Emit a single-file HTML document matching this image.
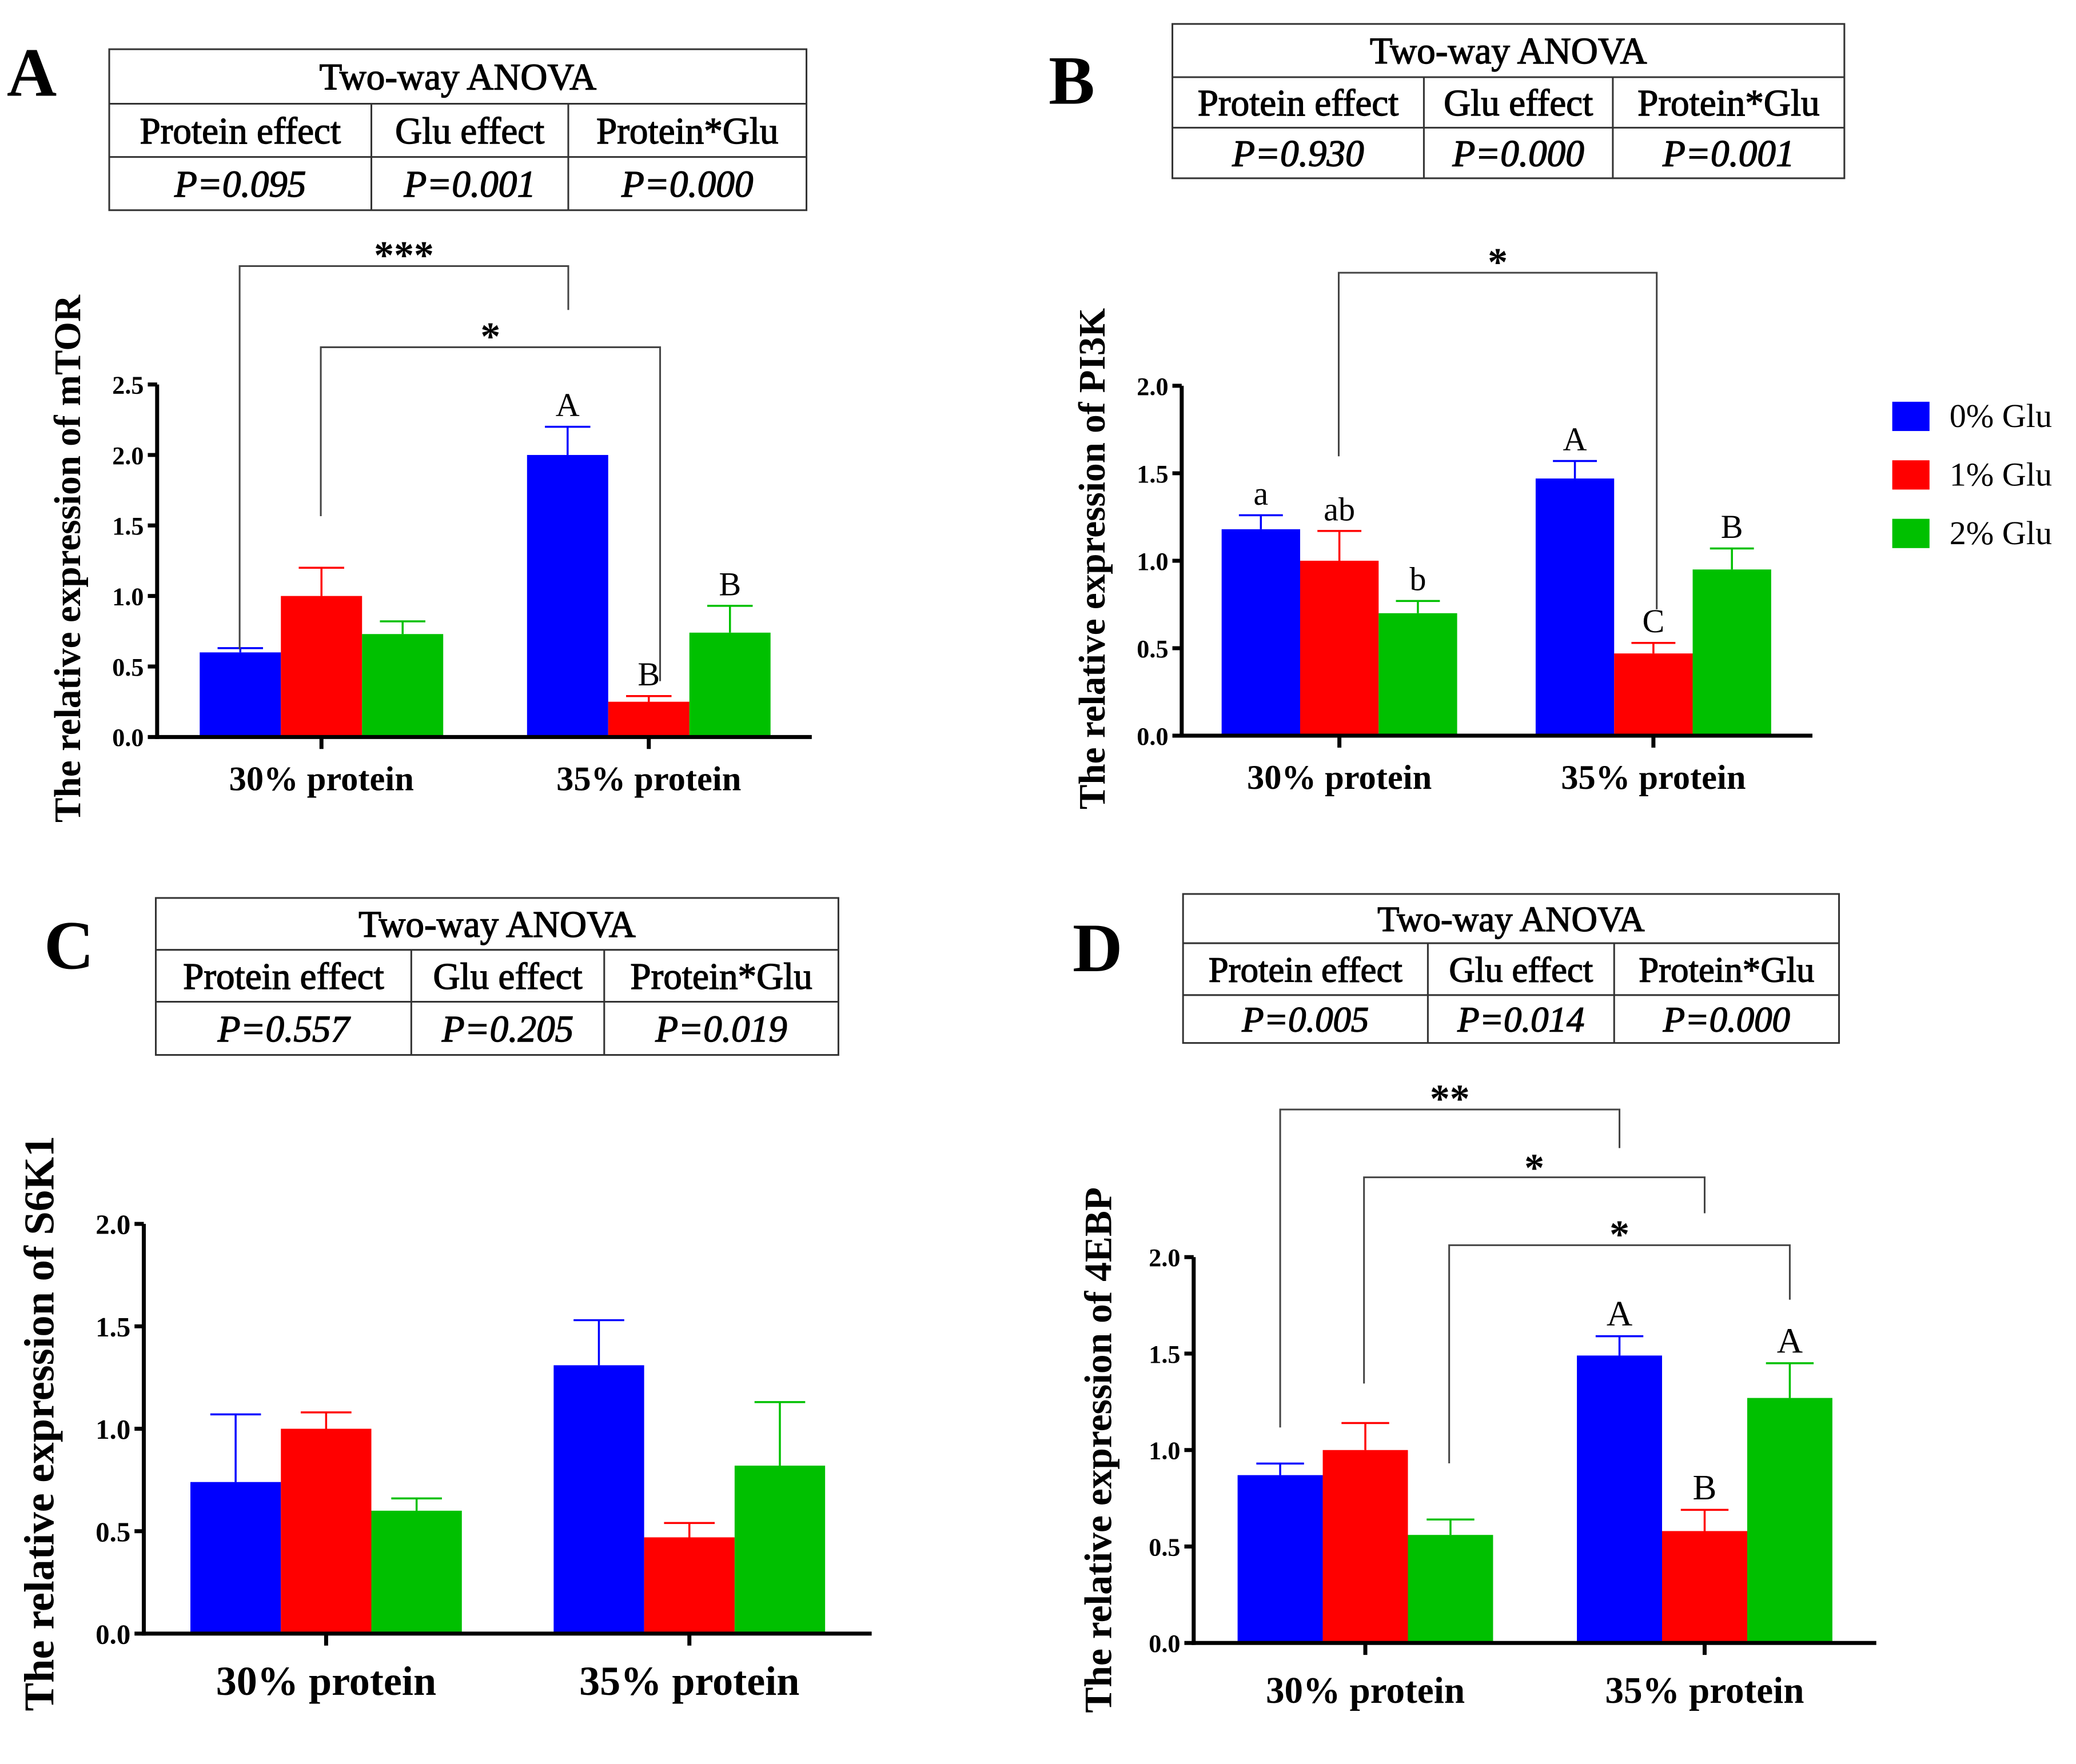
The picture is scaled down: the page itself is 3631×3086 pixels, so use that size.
<!DOCTYPE html>
<html><head><meta charset="utf-8">
<style>
html,body{margin:0;padding:0;background:#fff;}
svg{display:block;}
text{font-family:"Liberation Serif",serif;}
</style></head>
<body>
<svg id="fig" width="3631" height="3086" viewBox="0 0 1560 1326" xmlns="http://www.w3.org/2000/svg">
<rect width="1560" height="1326" fill="#fff"/>
</svg>
<script>
const categories = ["30% protein", "35% protein"];
const seriesNames = ["0% Glu", "1% Glu", "2% Glu"];
const colors = ["#0000ff", "#ff0000", "#00c000"];
const mtorValues = [[0.60, 1.00, 0.73], [2.00, 0.25, 0.74]];
const mtorErrors = [[0.63, 1.20, 0.82], [2.20, 0.29, 0.93]];
const mtorLetters = [["", "", ""], ["A", "B", "B"]];
const pi3kValues = [[1.18, 1.00, 0.70], [1.47, 0.47, 0.95]];
const pi3kErrors = [[1.26, 1.17, 0.77], [1.57, 0.53, 1.07]];
const pi3kLetters = [["a", "ab", "b"], ["A", "C", "B"]];
const s6k1Values = [[0.74, 1.00, 0.60], [1.31, 0.47, 0.82]];
const s6k1Errors = [[1.07, 1.08, 0.66], [1.53, 0.54, 1.13]];
const s6k1Letters = [["", "", ""], ["", "", ""]];
const ebpValues = [[0.87, 1.00, 0.56], [1.49, 0.58, 1.27]];
const ebpErrors = [[0.93, 1.14, 0.64], [1.59, 0.69, 1.45]];
const ebpLetters = [["", "", ""], ["A", "B", "A"]];
const yTicksA = ["0.0", "0.5", "1.0", "1.5", "2.0", "2.5"];
const yTicksB = ["0.0", "0.5", "1.0", "1.5", "2.0"];
const anovaA = ["P=0.095", "P=0.001", "P=0.000"];
const anovaB = ["P=0.930", "P=0.000", "P=0.001"];
const anovaC = ["P=0.557", "P=0.205", "P=0.019"];
const anovaD = ["P=0.005", "P=0.014", "P=0.000"];

const NS = "http://www.w3.org/2000/svg";
const svg = document.getElementById("fig");
function mk(tag, attrs, parent, txt) {
  const e = document.createElementNS(NS, tag);
  for (const k in attrs) e.setAttribute(k, attrs[k]);
  if (txt !== undefined) e.textContent = txt;
  (parent || svg).appendChild(e);
  return e;
}

const panels = [
  {id:"a", letter:"A", lx:5, ly:72, lsize:52, ylabel:"The relative expression of mTOR",
   vals:mtorValues, errs:mtorErrors, lets:mtorLetters, ticks:yTicksA, anova:anovaA,
   ax:118, y0:554, yTop:289, ymax:2.5, xEnd:610, starts:[150, 396], bw:61,
   yLabX:60, yLabY:420, yLabSize:28, tickSize:19, catSize:26, catY:594, letSize:25,
   table:{x1:82, x2:606, y1:37, r1:78, r2:118, y2:158, d1:279, d2:427, size:28},
   brackets:[{x1:180, y1:488, x2:427, y2:233, top:200, star:"***", sy:188},
             {x1:241, y1:388, x2:496, y2:512, top:261, star:"*", sy:249}]},
  {id:"b", letter:"B", lx:788, ly:78, lsize:52, ylabel:"The relative expression of PI3K",
   vals:pi3kValues, errs:pi3kErrors, lets:pi3kLetters, ticks:yTicksB, anova:anovaB,
   ax:888, y0:553, yTop:290, ymax:2.0, xEnd:1362, starts:[918, 1154], bw:59,
   yLabX:830, yLabY:420, yLabSize:28, tickSize:19, catSize:26, catY:593, letSize:25,
   table:{x1:881, x2:1386, y1:18, r1:58, r2:96, y2:134, d1:1070, d2:1212, size:28},
   brackets:[{x1:1006, y1:343, x2:1245, y2:458, top:205, star:"*", sy:193}]},
  {id:"c", letter:"C", lx:33, ly:728, lsize:52, ylabel:"The relative expression of S6K1",
   vals:s6k1Values, errs:s6k1Errors, lets:s6k1Letters, ticks:yTicksB, anova:anovaC,
   ax:108, y0:1228, yTop:920, ymax:2.0, xEnd:655, starts:[143, 416], bw:68,
   yLabX:40, yLabY:1070, yLabSize:32, tickSize:21, catSize:31, catY:1274, letSize:25,
   table:{x1:117, x2:630, y1:675, r1:714, r2:753, y2:793, d1:309, d2:454, size:28},
   brackets:[]},
  {id:"d", letter:"D", lx:806, ly:730, lsize:52, ylabel:"The relative expression of 4EBP",
   vals:ebpValues, errs:ebpErrors, lets:ebpLetters, ticks:yTicksB, anova:anovaD,
   ax:897, y0:1235, yTop:945, ymax:2.0, xEnd:1410, starts:[930, 1185], bw:64,
   yLabX:835, yLabY:1090, yLabSize:29, tickSize:19, catSize:28, catY:1280, letSize:27,
   table:{x1:889, x2:1382, y1:672, r1:709, r2:748, y2:784, d1:1073, d2:1213, size:27},
   brackets:[{x1:962, y1:1073, x2:1217, y2:863, top:834, star:"**", sy:822},
             {x1:1025, y1:1040, x2:1281, y2:912, top:885, star:"*", sy:874},
             {x1:1089, y1:1100, x2:1345, y2:977, top:936, star:"*", sy:924}]}
];

panels.forEach(p => {
  const g = mk("g", {});
  
  
  const yScale = v => p.y0 - (v / p.ymax) * (p.y0 - p.yTop);

  const pl = mk("text", {x:p.lx, y:p.ly, "font-size":p.lsize, "font-weight":"bold"}, g, p.letter);
  
  

  const t = p.table;
  const tg = mk("g", {stroke:"#333", "stroke-width":1.3, fill:"none"}, g);
  
  
  mk("rect", {x:t.x1, y:t.y1, width:t.x2 - t.x1, height:t.y2 - t.y1}, tg);
  mk("line", {x1:t.x1, y1:t.r1, x2:t.x2, y2:t.r1}, tg);
  mk("line", {x1:t.x1, y1:t.r2, x2:t.x2, y2:t.r2}, tg);
  mk("line", {x1:t.d1, y1:t.r1, x2:t.d1, y2:t.y2}, tg);
  mk("line", {x1:t.d2, y1:t.r1, x2:t.d2, y2:t.y2}, tg);
  const cx = [(t.x1 + t.d1) / 2, (t.d1 + t.d2) / 2, (t.d2 + t.x2) / 2];
  const tt = mk("text", {x:(t.x1 + t.x2) / 2, y:(t.y1 + t.r1) / 2 + t.size * 0.35, "font-size":t.size, "text-anchor":"middle", stroke:"#000", "stroke-width":0.6}, g, "Two-way ANOVA");
  
  
  ["Protein effect", "Glu effect", "Protein*Glu"].forEach((h, i) => {
    const e = mk("text", {x:cx[i], y:(t.r1 + t.r2) / 2 + t.size * 0.35, "font-size":t.size, "text-anchor":"middle", stroke:"#000", "stroke-width":0.6}, g, h);
    
    
  });
  p.anova.forEach((v, i) => {
    const e = mk("text", {x:cx[i], y:(t.r2 + t.y2) / 2 + t.size * 0.35, "font-size":t.size, "font-style":"italic", "text-anchor":"middle", stroke:"#000", "stroke-width":0.6}, g, v);
    
    
  });

  p.vals.forEach((grp, gi) => {
    grp.forEach((v, si) => {
      const x = p.starts[gi] + si * p.bw;
      const yT = yScale(v), yE = yScale(p.errs[gi][si]);
      const cxb = x + p.bw / 2;
      const b = mk("rect", {x:x, y:yT, width:p.bw, height:p.y0 - yT, fill:colors[si]}, g);
      
      
      const eb = mk("path", {d:`M${cxb},${yT}V${yE}M${cxb - p.bw * 0.28},${yE}H${cxb + p.bw * 0.28}`, stroke:colors[si], "stroke-width":1.5, fill:"none"}, g);
      
      
      const L = p.lets[gi][si];
      if (L) {
        const lt = mk("text", {x:cxb, y:yE - 8, "font-size":p.letSize, "text-anchor":"middle"}, g, L);
        
        
      }
    });
  });

  const ag = mk("g", {stroke:"#000", "stroke-width":3, fill:"none"}, g);
  
  
  mk("line", {x1:p.ax, y1:p.y0 + 1.5, x2:p.ax, y2:p.yTop}, ag);
  mk("line", {x1:p.ax - 1.5, y1:p.y0, x2:p.xEnd, y2:p.y0}, ag);
  p.ticks.forEach((tk) => {
    const y = yScale(parseFloat(tk));
    mk("line", {x1:p.ax - 7, y1:y, x2:p.ax, y2:y}, ag);
    const e = mk("text", {x:p.ax - 10, y:y + p.tickSize * 0.36, "font-size":p.tickSize, "font-weight":"bold", "text-anchor":"end", fill:"#000", stroke:"none", "font-family":"Liberation Sans, sans-serif"}, g, tk);
    
    
  });
  categories.forEach((c, gi) => {
    const x = p.starts[gi] + 1.5 * p.bw;
    mk("line", {x1:x, y1:p.y0, x2:x, y2:p.y0 + 9}, ag);
    const e = mk("text", {x:x, y:p.catY, "font-size":p.catSize, "font-weight":"bold", "text-anchor":"middle"}, g, c);
    
    
  });
  const yl = mk("text", {x:0, y:0, "font-size":p.yLabSize, "font-weight":"bold", "text-anchor":"middle", transform:`translate(${p.yLabX},${p.yLabY}) rotate(-90)`}, g, p.ylabel);
  
  

  p.brackets.forEach(br => {
    const bp = mk("path", {d:`M${br.x1},${br.y1}V${br.top}H${br.x2}V${br.y2}`, stroke:"#444", "stroke-width":1.3, fill:"none"}, g);
    
    
    const st = mk("text", {x:(br.x1 + br.x2) / 2, y:br.sy + 14, "font-size":30, "font-weight":"bold", "text-anchor":"middle", "font-family":"Liberation Sans, sans-serif"}, g, br.star);
    
    
  });
});

const lg = mk("g", {});


seriesNames.forEach((n, i) => {
  const y = 302 + i * 44;
  const r = mk("rect", {x:1422, y:y, width:28, height:22, fill:colors[i]}, lg);
  
  
  const tx = mk("text", {x:1465, y:y + 19, "font-size":25}, lg, n);
  
  
});
</script>
</body></html>
